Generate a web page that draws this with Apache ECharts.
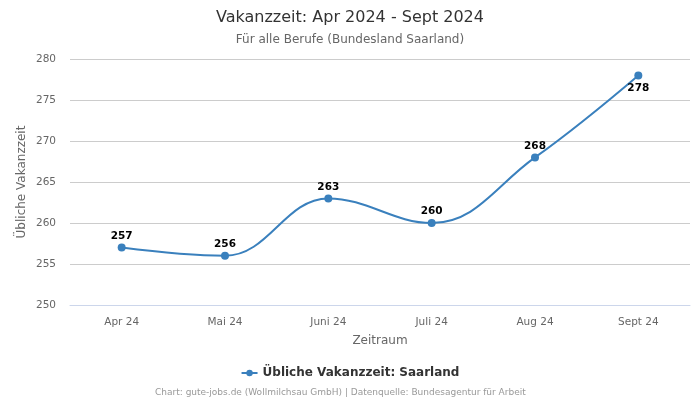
<!DOCTYPE html>
<html><head><meta charset="utf-8">
<script src="https://cdn.jsdelivr.net/npm/echarts@6/dist/echarts.min.js"></script>
<style>html,body{margin:0;padding:0;background:#fff}#c{width:700px;height:400px}</style>
</head><body><div id="c"></div>
<script>
const categories = ['Apr 24','Mai 24','Juni 24','Juli 24','Aug 24','Sept 24'];
const values = [257, 256, 263, 260, 268, 278];
const labelBelow = [false, false, false, false, false, true];
const seriesName = 'Übliche Vakanzzeit: Saarland';
const F = 'DejaVu Sans';
const chart = echarts.init(document.getElementById('c'));
chart.setOption({
  animation: false,
  textStyle: {fontFamily: F},
  title: [
    {text: 'Vakanzzeit: Apr 2024 - Sept 2024', left: 'center', top: 5, textStyle: {fontFamily: F, fontSize: 16, fontWeight: 'normal', color: '#333'}},
    {text: 'Für alle Berufe (Bundesland Saarland)', left: 'center', top: 29, textStyle: {fontFamily: F, fontSize: 12, fontWeight: 'normal', color: '#666'}},
    {text: 'Chart: gute-jobs.de (Wollmilchsau GmbH) | Datenquelle: Bundesagentur für Arbeit', left: 150, top: 383, textStyle: {fontFamily: F, fontSize: 9, fontWeight: 'normal', color: '#999'}}
  ],
  legend: {top: 362, left: 'center', itemWidth: 16, itemHeight: 8, textStyle: {fontFamily: F, fontSize: 12, fontWeight: 'bold', color: '#333'}, data: [seriesName]},
  grid: {left: 70, right: 10, top: 59, bottom: 95},
  xAxis: {type: 'category', data: categories, boundaryGap: true,
    name: 'Zeitraum', nameLocation: 'middle', nameGap: 30, nameTextStyle: {fontFamily: F, fontSize: 12, color: '#666'},
    axisLine: {lineStyle: {color: '#ccd6eb'}}, axisTick: {show: false},
    axisLabel: {fontFamily: F, fontSize: 10.5, color: '#666', margin: 12}},
  yAxis: {type: 'value', min: 250, max: 280, interval: 5,
    name: 'Übliche Vakanzzeit', nameLocation: 'middle', nameGap: 42, nameMoveOverlap: false, nameTextStyle: {fontFamily: F, fontSize: 12, color: '#666'},
    axisLine: {show: false}, axisTick: {show: false},
    axisLabel: {fontFamily: F, fontSize: 10.5, color: '#666', margin: 14},
    splitLine: {lineStyle: {color: '#cccccc'}}},
  series: [{
    name: seriesName, type: 'line', smooth: 0.4,
    data: values.map((v, i) => labelBelow[i] ? {value: v, label: {position: 'bottom', distance: 3}} : v),
    symbol: 'circle', symbolSize: 8,
    itemStyle: {color: '#3a80bd'}, lineStyle: {color: '#3a80bd', width: 2},
    label: {show: true, position: 'top', distance: 2, fontFamily: F, fontSize: 10.5, fontWeight: 'bold', color: '#000'}
  }]
});
</script></body></html>
